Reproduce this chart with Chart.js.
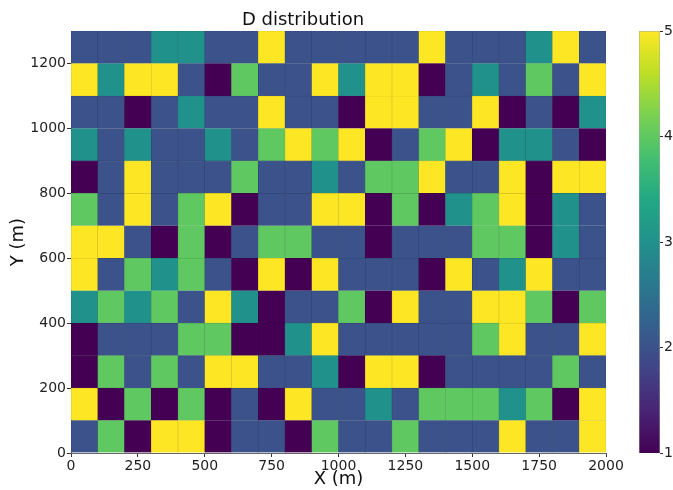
<!DOCTYPE html>
<html>
<head>
<meta charset="utf-8">
<script src="https://cdn.jsdelivr.net/npm/chart.js@4/dist/chart.umd.min.js"></script>
<style>
  html, body { margin: 0; padding: 0; background: #fff; }
  #wrap { position: relative; width: 673px; height: 490px; }
  #main { position: absolute; left: 0; top: 0; }
  #cbar { position: absolute; left: 600px; top: 0; }
</style>
</head>
<body>
<div id="wrap">
  <canvas id="main" width="673" height="490"></canvas>
  <canvas id="cbar" width="73" height="490"></canvas>
</div>
<script>
// ---- Data ----
const xEdges = [0,100,200,300,400,500,600,700,800,900,1000,1100,1200,1300,1400,1500,1600,1700,1800,1900,2000];
const yEdges = [0,100,200,300,400,500,600,700,800,900,1000,1100,1200,1300];
const xTicks = [0,250,500,750,1000,1250,1500,1750,2000];
const yTicks = [0,200,400,600,800,1000,1200];
const cbTicks = [1,2,3,4,5];
// D values per row, bottom row (y 0-100) first, columns x 0-100 ... 1900-2000
const dRows = [
  [2,4,1,5,5,1,2,2,1,4,2,2,4,2,2,2,5,2,2,5],
  [5,1,4,1,4,1,2,1,5,2,2,3,2,4,4,4,3,4,1,5],
  [1,4,2,4,2,5,5,2,2,3,1,5,5,1,2,2,2,2,4,2],
  [1,2,2,2,4,4,1,1,3,5,2,2,2,2,2,4,5,2,2,5],
  [3,4,3,4,2,5,3,1,2,2,4,1,5,2,2,5,5,4,1,4],
  [5,2,4,3,4,2,1,5,1,5,2,2,2,1,5,2,3,5,2,2],
  [5,5,2,1,4,1,2,4,4,2,2,1,2,2,2,4,4,1,3,2],
  [4,2,5,2,4,5,1,2,2,5,5,1,4,1,3,4,5,1,3,2],
  [1,2,5,2,2,2,4,2,2,3,2,4,4,5,2,2,5,1,5,5],
  [3,2,3,2,2,3,2,4,5,4,5,1,2,4,5,1,3,3,2,1],
  [2,2,1,2,3,2,2,5,2,2,1,5,5,2,2,5,1,2,1,3],
  [5,3,5,5,2,1,4,2,2,5,3,5,5,1,2,3,2,4,2,5],
  [2,2,2,3,3,2,2,5,2,2,2,2,2,5,2,2,2,3,5,2]
];
const vMin = 1, vMax = 5;

// ---- Viridis colormap ----
const viridis = ['#440154','#482475','#414487','#355f8d','#2a788e','#21918c','#22a884','#44bf70','#7ad151','#bddf26','#fde725'];
function hex2rgb(h){ return [parseInt(h.slice(1,3),16), parseInt(h.slice(3,5),16), parseInt(h.slice(5,7),16)]; }
function cmapRGB(v){
  let t = (v - vMin) / (vMax - vMin);
  t = Math.max(0, Math.min(1, t));
  const p = t * (viridis.length - 1);
  const i = Math.min(Math.floor(p), viridis.length - 2);
  const f = p - i;
  const a = hex2rgb(viridis[i]), b = hex2rgb(viridis[i+1]);
  return a.map((x, k) => Math.round(x + (b[k] - x) * f));
}
function cmap(v){ return 'rgb(' + cmapRGB(v).join(',') + ')'; }
function cmapEdge(v){ return 'rgb(' + cmapRGB(v).map(x => Math.round(x * 0.82)).join(',') + ')'; }

const FONT = "'DejaVu Sans', sans-serif";
const xCenters = xEdges.slice(0, -1).map((x, i) => (x + xEdges[i+1]) / 2);

const datasets = dRows.map((row, r) => ({
  label: 'row ' + r,
  data: row.map((v, c) => ({ x: xCenters[c], y: [yEdges[r], yEdges[r+1]] })),
  backgroundColor: row.map(v => cmap(v)),
  borderColor: row.map(v => cmapEdge(v)),
  borderWidth: 0.6,
  grouped: false,
  categoryPercentage: 1,
  barPercentage: 1
}));

new Chart(document.getElementById('main'), {
  type: 'bar',
  data: { datasets },
  options: {
    responsive: false,
    animation: false,
    devicePixelRatio: 1,
    layout: { padding: { left: 0, right: 67, top: 0, bottom: 0 } },
    plugins: {
      legend: { display: false },
      tooltip: { enabled: false },
      title: {
        display: true,
        text: 'D distribution',
        color: '#111',
        font: { family: FONT, size: 18, weight: 'normal' },
        padding: { top: 9.5, bottom: 0 }
      }
    },
    scales: {
      x: {
        type: 'linear',
        min: xEdges[0], max: xEdges[xEdges.length - 1],
        offset: false,
        afterBuildTicks: s => { s.ticks = xTicks.map(v => ({ value: v })); },
        afterFit: s => { s.height = 37; },
        grid: { offset: false, drawOnChartArea: false, drawTicks: true, tickLength: 4, color: '#333' },
        border: { display: true, color: '#666', width: 1 },
        ticks: { color: '#222', font: { family: FONT, size: 14 }, padding: 1, maxRotation: 0, autoSkip: false, callback: v => String(v) },
        title: { display: true, text: 'X (m)', color: '#111', font: { family: FONT, size: 18 }, padding: { top: 0, bottom: 0 } }
      },
      y: {
        type: 'linear',
        min: yEdges[0], max: yEdges[yEdges.length - 1],
        afterBuildTicks: s => { s.ticks = yTicks.map(v => ({ value: v })); },
        afterFit: s => { s.width = 71; },
        grid: { offset: false, drawOnChartArea: false, drawTicks: true, tickLength: 4, color: '#333' },
        border: { display: true, color: '#666', width: 1 },
        ticks: { color: '#222', font: { family: FONT, size: 14 }, padding: 1, autoSkip: false, callback: v => String(v) },
        title: { display: true, text: 'Y (m)', color: '#111', font: { family: FONT, size: 18 }, padding: { top: 8, bottom: 0 } }
      }
    }
  }
});

// ---- Colorbar ----
new Chart(document.getElementById('cbar'), {
  type: 'bar',
  data: {
    labels: [''],
    datasets: [{
      data: [[vMin, vMax]],
      backgroundColor: (ctx) => {
        const chart = ctx.chart;
        const ys = chart.scales.y;
        if (!ys || !chart.chartArea) return viridis[5];
        const g = chart.ctx.createLinearGradient(0, ys.getPixelForValue(vMin), 0, ys.getPixelForValue(vMax));
        viridis.forEach((c, i) => g.addColorStop(i / (viridis.length - 1), c));
        return g;
      },
      borderColor: 'rgba(0,0,0,0.35)',
      borderWidth: 0.8,
      categoryPercentage: 1,
      barPercentage: 1
    }]
  },
  options: {
    responsive: false,
    animation: false,
    devicePixelRatio: 1,
    layout: { padding: { left: 39, right: 0, top: 31, bottom: 37 } },
    plugins: { legend: { display: false }, tooltip: { enabled: false }, title: { display: false } },
    scales: {
      x: { display: false },
      y: {
        position: 'right',
        min: vMin, max: vMax,
        afterBuildTicks: s => { s.ticks = cbTicks.map(v => ({ value: v })); },
        afterFit: s => { s.width = 13; },
        grid: { drawOnChartArea: false, drawTicks: true, tickLength: 3, color: '#333' },
        border: { display: false },
        ticks: { color: '#222', font: { family: FONT, size: 14 }, padding: 1, callback: v => String(v) }
      }
    }
  }
});
</script>
</body>
</html>
